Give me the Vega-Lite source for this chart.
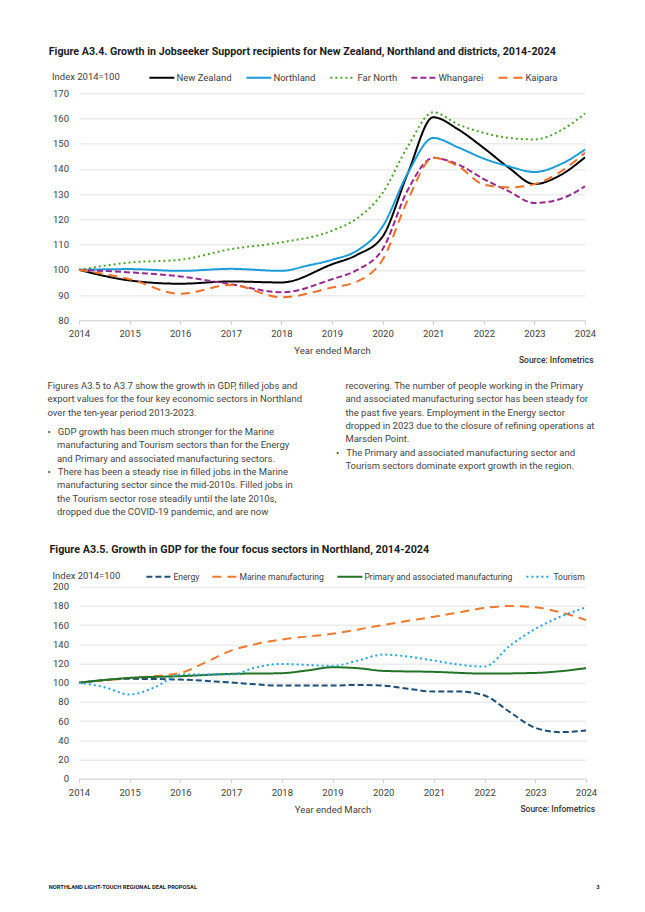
{
  "$schema": "https://vega.github.io/schema/vega-lite/v6.json",
  "background": "white",
  "padding": {"left": 47, "top": 45.3, "right": 0, "bottom": 0},
  "columns": 1,
  "align": "none",
  "spacing": 5.7,
  "resolve": {"scale": {"color": "independent", "strokeDash": "independent"}},
  "config": {
    "font": "Roboto",
    "view": {"stroke": null},
    "axis": {
      "labelFont": "Roboto", "labelFontSize": 9.5, "labelColor": "#404040",
      "titleFont": "Roboto", "titleFontSize": 9.5, "titleFontWeight": "normal", "titleColor": "#404040",
      "gridColor": "#e3e3e3", "domainColor": "#d6d6d6", "tickColor": "#cfcfcf"
    }
  },
  "datasets": {
    "jobseeker": [
      {"year": 2014, "series": "New Zealand", "value": 100},
      {"year": 2015, "series": "New Zealand", "value": 95.8},
      {"year": 2016, "series": "New Zealand", "value": 94.5},
      {"year": 2017, "series": "New Zealand", "value": 95.4},
      {"year": 2018, "series": "New Zealand", "value": 95.0},
      {"year": 2019, "series": "New Zealand", "value": 102.2},
      {"year": 2019.5, "series": "New Zealand", "value": 106},
      {"year": 2020, "series": "New Zealand", "value": 113.2},
      {"year": 2020.5, "series": "New Zealand", "value": 138.4},
      {"year": 2021, "series": "New Zealand", "value": 160.5},
      {"year": 2021.5, "series": "New Zealand", "value": 155.6},
      {"year": 2022, "series": "New Zealand", "value": 148.3},
      {"year": 2022.5, "series": "New Zealand", "value": 140.4},
      {"year": 2023, "series": "New Zealand", "value": 134},
      {"year": 2023.5, "series": "New Zealand", "value": 137.4},
      {"year": 2024, "series": "New Zealand", "value": 144.6},
      {"year": 2014, "series": "Northland", "value": 100},
      {"year": 2015, "series": "Northland", "value": 100.3},
      {"year": 2016, "series": "Northland", "value": 99.6},
      {"year": 2017, "series": "Northland", "value": 100.4},
      {"year": 2018, "series": "Northland", "value": 99.6},
      {"year": 2018.5, "series": "Northland", "value": 101.6},
      {"year": 2019, "series": "Northland", "value": 104},
      {"year": 2019.5, "series": "Northland", "value": 107.7},
      {"year": 2020, "series": "Northland", "value": 117.2},
      {"year": 2020.5, "series": "Northland", "value": 138.4},
      {"year": 2021, "series": "Northland", "value": 152.3},
      {"year": 2021.5, "series": "Northland", "value": 148.5},
      {"year": 2022, "series": "Northland", "value": 144.1},
      {"year": 2022.5, "series": "Northland", "value": 141},
      {"year": 2023, "series": "Northland", "value": 138.8},
      {"year": 2023.5, "series": "Northland", "value": 141.7},
      {"year": 2024, "series": "Northland", "value": 147.7},
      {"year": 2014, "series": "Far North", "value": 100},
      {"year": 2015, "series": "Far North", "value": 102.9},
      {"year": 2016, "series": "Far North", "value": 104},
      {"year": 2017, "series": "Far North", "value": 108.2},
      {"year": 2018, "series": "Far North", "value": 110.9},
      {"year": 2019, "series": "Far North", "value": 115.5},
      {"year": 2019.5, "series": "Far North", "value": 120.5},
      {"year": 2020, "series": "Far North", "value": 130.5},
      {"year": 2020.5, "series": "Far North", "value": 149},
      {"year": 2021, "series": "Far North", "value": 162.5},
      {"year": 2021.5, "series": "Far North", "value": 157.6},
      {"year": 2022, "series": "Far North", "value": 154.3},
      {"year": 2022.5, "series": "Far North", "value": 152.3},
      {"year": 2023, "series": "Far North", "value": 151.7},
      {"year": 2023.5, "series": "Far North", "value": 155},
      {"year": 2024, "series": "Far North", "value": 162},
      {"year": 2014, "series": "Whangarei", "value": 100},
      {"year": 2015, "series": "Whangarei", "value": 99},
      {"year": 2016, "series": "Whangarei", "value": 97.4},
      {"year": 2017, "series": "Whangarei", "value": 94.3},
      {"year": 2018, "series": "Whangarei", "value": 91.1},
      {"year": 2019, "series": "Whangarei", "value": 96.3},
      {"year": 2019.5, "series": "Whangarei", "value": 100},
      {"year": 2020, "series": "Whangarei", "value": 108.2},
      {"year": 2020.5, "series": "Whangarei", "value": 131.8},
      {"year": 2021, "series": "Whangarei", "value": 144.4},
      {"year": 2021.5, "series": "Whangarei", "value": 141.7},
      {"year": 2022, "series": "Whangarei", "value": 136},
      {"year": 2022.5, "series": "Whangarei", "value": 131.1},
      {"year": 2023, "series": "Whangarei", "value": 126.5},
      {"year": 2023.5, "series": "Whangarei", "value": 128},
      {"year": 2024, "series": "Whangarei", "value": 133.1},
      {"year": 2014, "series": "Kaipara", "value": 100},
      {"year": 2015, "series": "Kaipara", "value": 96.3},
      {"year": 2016, "series": "Kaipara", "value": 90.5},
      {"year": 2017, "series": "Kaipara", "value": 94},
      {"year": 2018, "series": "Kaipara", "value": 89.1},
      {"year": 2019, "series": "Kaipara", "value": 93},
      {"year": 2019.5, "series": "Kaipara", "value": 95.4},
      {"year": 2020, "series": "Kaipara", "value": 104},
      {"year": 2020.5, "series": "Kaipara", "value": 127.8},
      {"year": 2021, "series": "Kaipara", "value": 144.4},
      {"year": 2021.5, "series": "Kaipara", "value": 141},
      {"year": 2022, "series": "Kaipara", "value": 133.8},
      {"year": 2022.5, "series": "Kaipara", "value": 132.7},
      {"year": 2023, "series": "Kaipara", "value": 134},
      {"year": 2023.5, "series": "Kaipara", "value": 138.7},
      {"year": 2024, "series": "Kaipara", "value": 146.4}
    ],
    "gdp": [
      {"year": 2014, "series": "Energy", "value": 100},
      {"year": 2015, "series": "Energy", "value": 104},
      {"year": 2016, "series": "Energy", "value": 103.3},
      {"year": 2017, "series": "Energy", "value": 100.2},
      {"year": 2018, "series": "Energy", "value": 97},
      {"year": 2019, "series": "Energy", "value": 97},
      {"year": 2019.5, "series": "Energy", "value": 97.7},
      {"year": 2020, "series": "Energy", "value": 97},
      {"year": 2020.5, "series": "Energy", "value": 93.6},
      {"year": 2021, "series": "Energy", "value": 90.8},
      {"year": 2021.5, "series": "Energy", "value": 90.8},
      {"year": 2022, "series": "Energy", "value": 86.7},
      {"year": 2022.5, "series": "Energy", "value": 69.3},
      {"year": 2023, "series": "Energy", "value": 53},
      {"year": 2023.5, "series": "Energy", "value": 48.5},
      {"year": 2024, "series": "Energy", "value": 50.3},
      {"year": 2014, "series": "Marine manufacturing", "value": 100},
      {"year": 2015, "series": "Marine manufacturing", "value": 105},
      {"year": 2016, "series": "Marine manufacturing", "value": 110.2},
      {"year": 2016.5, "series": "Marine manufacturing", "value": 121.3},
      {"year": 2017, "series": "Marine manufacturing", "value": 133.4},
      {"year": 2017.5, "series": "Marine manufacturing", "value": 140.4},
      {"year": 2018, "series": "Marine manufacturing", "value": 145},
      {"year": 2019, "series": "Marine manufacturing", "value": 151},
      {"year": 2020, "series": "Marine manufacturing", "value": 160.1},
      {"year": 2021, "series": "Marine manufacturing", "value": 168.8},
      {"year": 2021.5, "series": "Marine manufacturing", "value": 173.3},
      {"year": 2022, "series": "Marine manufacturing", "value": 177.8},
      {"year": 2022.5, "series": "Marine manufacturing", "value": 179.9},
      {"year": 2023, "series": "Marine manufacturing", "value": 178.5},
      {"year": 2023.5, "series": "Marine manufacturing", "value": 173.3},
      {"year": 2024, "series": "Marine manufacturing", "value": 165.3},
      {"year": 2014, "series": "Primary and associated manufacturing", "value": 100},
      {"year": 2015, "series": "Primary and associated manufacturing", "value": 105},
      {"year": 2016, "series": "Primary and associated manufacturing", "value": 106.8},
      {"year": 2017, "series": "Primary and associated manufacturing", "value": 109.2},
      {"year": 2018, "series": "Primary and associated manufacturing", "value": 109.9},
      {"year": 2018.5, "series": "Primary and associated manufacturing", "value": 112.7},
      {"year": 2019, "series": "Primary and associated manufacturing", "value": 116.1},
      {"year": 2019.5, "series": "Primary and associated manufacturing", "value": 115.1},
      {"year": 2020, "series": "Primary and associated manufacturing", "value": 112.3},
      {"year": 2021, "series": "Primary and associated manufacturing", "value": 111.3},
      {"year": 2022, "series": "Primary and associated manufacturing", "value": 109.5},
      {"year": 2023, "series": "Primary and associated manufacturing", "value": 110.2},
      {"year": 2023.5, "series": "Primary and associated manufacturing", "value": 112},
      {"year": 2024, "series": "Primary and associated manufacturing", "value": 115.1},
      {"year": 2014, "series": "Tourism", "value": 100},
      {"year": 2014.5, "series": "Tourism", "value": 95.3},
      {"year": 2015, "series": "Tourism", "value": 87.7},
      {"year": 2015.5, "series": "Tourism", "value": 95.3},
      {"year": 2016, "series": "Tourism", "value": 108.5},
      {"year": 2017, "series": "Tourism", "value": 108.5},
      {"year": 2017.5, "series": "Tourism", "value": 116.1},
      {"year": 2018, "series": "Tourism", "value": 119.6},
      {"year": 2018.5, "series": "Tourism", "value": 118.5},
      {"year": 2019, "series": "Tourism", "value": 117.5},
      {"year": 2019.5, "series": "Tourism", "value": 123},
      {"year": 2020, "series": "Tourism", "value": 129.3},
      {"year": 2020.5, "series": "Tourism", "value": 127.2},
      {"year": 2021, "series": "Tourism", "value": 123},
      {"year": 2021.5, "series": "Tourism", "value": 118.9},
      {"year": 2022, "series": "Tourism", "value": 116.8},
      {"year": 2022.5, "series": "Tourism", "value": 138.6},
      {"year": 2023, "series": "Tourism", "value": 156},
      {"year": 2023.5, "series": "Tourism", "value": 168.8},
      {"year": 2024, "series": "Tourism", "value": 178.5}
    ]
  },
  "concat": [
    {
      "width": 506,
      "height": 227,
      "title": {
        "text": "Figure A3.4. Growth in Jobseeker Support recipients for New Zealand, Northland and districts, 2014-2024",
        "anchor": "start", "frame": "group", "dx": -30.3, "offset": 6.8,
        "font": "Roboto", "fontSize": 10.7, "fontWeight": "bold", "color": "#1d1d1d"
      },
      "layer": [
        {
          "data": {"name": "jobseeker"},
          "mark": {"type": "line", "interpolate": "monotone", "strokeWidth": 2},
          "encoding": {
            "x": {
              "field": "year", "type": "quantitative",
              "scale": {"domain": [2014, 2024], "nice": false},
              "axis": {
                "values": [2014, 2015, 2016, 2017, 2018, 2019, 2020, 2021, 2022, 2023, 2024],
                "format": "d", "grid": false, "labelFlush": false, "tickSize": 4,
                "labelPadding": 4.5, "title": "Year ended March", "titlePadding": 7.5
              }
            },
            "y": {
              "field": "value", "type": "quantitative",
              "scale": {"domain": [80, 170], "nice": false, "zero": false},
              "axis": {
                "values": [80, 90, 100, 110, 120, 130, 140, 150, 160, 170],
                "grid": true, "domain": false, "ticks": false, "labelPadding": 10.5,
                "title": "Index 2014=100", "titleAngle": 0, "titleAlign": "left",
                "titleBaseline": "middle", "titleX": -27.5, "titleY": -16.6
              }
            },
            "color": {
              "field": "series", "type": "nominal",
              "scale": {
                "domain": ["New Zealand", "Northland", "Far North", "Whangarei", "Kaipara"],
                "range": ["#000000", "#199cd8", "#4fa32f", "#962a8e", "#f0702a"]
              },
              "legend": {
                "orient": "none", "legendX": 69.4, "legendY": -29.1, "direction": "horizontal",
                "columns": 5, "title": null, "symbolType": "stroke", "symbolSize": 625,
                "symbolStrokeWidth": 2, "labelFont": "Roboto", "labelFontSize": 9.5, "labelLimit": 300,
                "labelColor": "#404040", "columnPadding": 10, "labelOffset": 1, "padding": 0
              }
            },
            "strokeDash": {
              "field": "series", "type": "nominal",
              "scale": {
                "domain": ["New Zealand", "Northland", "Far North", "Whangarei", "Kaipara"],
                "range": [[1, 0], [1, 0], [2, 3], [6, 3], [9, 6]]
              },
              "legend": {
                "orient": "none", "legendX": 69.4, "legendY": -29.1, "direction": "horizontal",
                "columns": 5, "title": null, "symbolType": "stroke", "symbolSize": 625,
                "symbolStrokeWidth": 2, "labelFont": "Roboto", "labelFontSize": 9.5, "labelLimit": 300,
                "labelColor": "#404040", "columnPadding": 10, "labelOffset": 1, "padding": 0
              }
            }
          }
        },
        {
          "data": {"values": [{}]},
          "mark": {"type": "text", "align": "right", "baseline": "middle", "dx": 8.5, "dy": 39.4,
                   "font": "Roboto", "fontSize": 8.5, "fontWeight": 500, "color": "#333333"},
          "encoding": {
            "x": {
              "datum": 2024, "type": "quantitative",
              "scale": {"domain": [2014, 2024], "nice": false},
              "axis": {
                "values": [2014, 2015, 2016, 2017, 2018, 2019, 2020, 2021, 2022, 2023, 2024],
                "format": "d", "grid": false, "labelFlush": false, "tickSize": 4,
                "labelPadding": 4.5, "title": "Year ended March", "titlePadding": 7.5
              }
            },
            "y": {
              "datum": 80, "type": "quantitative",
              "scale": {"domain": [80, 170], "nice": false, "zero": false},
              "axis": {
                "values": [80, 90, 100, 110, 120, 130, 140, 150, 160, 170],
                "grid": true, "domain": false, "ticks": false, "labelPadding": 10.5,
                "title": "Index 2014=100", "titleAngle": 0, "titleAlign": "left",
                "titleBaseline": "middle", "titleX": -27.5, "titleY": -16.6
              }
            },
            "text": {"value": "Source: Infometrics"}
          }
        }
      ]
    },
    {
      "spacing": 18,
      "bounds": "flush",
      "hconcat": [
        {
          "width": 239.4,
          "height": 6,
          "data": {"values": [{}]},
          "mark": {"type": "text"},
          "encoding": {"text": {"value": ""}},
          "title": {
            "text": [
              "Figures A3.5 to A3.7 show the growth in GDP, filled jobs and",
              "export values for the four key economic sectors in Northland",
              "over the ten-year period 2013-2023."
            ],
            "subtitle": [
              "•\u00a0\u00a0\u00a0GDP growth has been much stronger for the Marine",
              "\u200b\u00a0\u00a0\u00a0\u00a0manufacturing and Tourism sectors than for the Energy",
              "\u200b\u00a0\u00a0\u00a0\u00a0and Primary and associated manufacturing sectors.",
              "•\u00a0\u00a0\u00a0There has been a steady rise in filled jobs in the Marine",
              "\u200b\u00a0\u00a0\u00a0\u00a0manufacturing sector since the mid-2010s. Filled jobs in",
              "\u200b\u00a0\u00a0\u00a0\u00a0the Tourism sector rose steadily until the late 2010s,",
              "\u200b\u00a0\u00a0\u00a0\u00a0dropped due the COVID-19 pandemic, and are now"
            ],
            "orient": "bottom", "anchor": "start", "frame": "group", "offset": 0, "dx": -31.5,
            "font": "Roboto", "fontSize": 9.5, "fontWeight": "normal", "color": "#454545",
            "lineHeight": 13.3,
            "subtitleFont": "Roboto", "subtitleFontSize": 9.5, "subtitleColor": "#454545",
            "subtitleLineHeight": 13.3, "subtitlePadding": 10
          }
        },
        {
          "width": 262,
          "height": 6,
          "data": {"values": [{}]},
          "mark": {"type": "text"},
          "encoding": {"text": {"value": ""}},
          "title": {
            "text": [
              "\u200b\u00a0\u00a0\u00a0\u00a0recovering. The number of people working in the Primary",
              "\u200b\u00a0\u00a0\u00a0\u00a0and associated manufacturing sector has been steady for",
              "\u200b\u00a0\u00a0\u00a0\u00a0the past five years. Employment in the Energy sector",
              "\u200b\u00a0\u00a0\u00a0\u00a0dropped in 2023 due to the closure of refining operations at",
              "\u200b\u00a0\u00a0\u00a0\u00a0Marsden Point."
            ],
            "subtitle": [
              "•\u00a0\u00a0\u00a0The Primary and associated manufacturing sector and",
              "\u200b\u00a0\u00a0\u00a0\u00a0Tourism sectors dominate export growth in the region.",
              "\u00a0",
              "\u00a0",
              "\u00a0",
              "\u00a0",
              "\u00a0"
            ],
            "orient": "bottom", "anchor": "start", "frame": "group", "offset": 0, "dx": -1,
            "font": "Roboto", "fontSize": 9.5, "fontWeight": "normal", "color": "#454545",
            "lineHeight": 13.3,
            "subtitleFont": "Roboto", "subtitleFontSize": 9.5, "subtitleColor": "#454545",
            "subtitleLineHeight": 13.3, "subtitlePadding": 4.5
          }
        }
      ]
    },
    {
      "width": 507,
      "height": 192,
      "title": {
        "text": "Figure A3.5. Growth in GDP for the four focus sectors in Northland, 2014-2024",
        "anchor": "start", "frame": "group", "dx": -29.6, "offset": 8.4,
        "font": "Roboto", "fontSize": 10.8, "fontWeight": "bold", "color": "#1d1d1d"
      },
      "layer": [
        {
          "data": {"name": "gdp"},
          "mark": {"type": "line", "interpolate": "monotone", "strokeWidth": 2},
          "encoding": {
            "x": {
              "field": "year", "type": "quantitative",
              "scale": {"domain": [2014, 2024], "nice": false},
              "axis": {
                "values": [2014, 2015, 2016, 2017, 2018, 2019, 2020, 2021, 2022, 2023, 2024],
                "format": "d", "grid": false, "labelFlush": false, "tickSize": 4,
                "labelPadding": 4.5, "title": "Year ended March", "titlePadding": 7.5
              }
            },
            "y": {
              "field": "value", "type": "quantitative",
              "scale": {"domain": [0, 200], "nice": false},
              "axis": {
                "values": [0, 20, 40, 60, 80, 100, 120, 140, 160, 180, 200],
                "grid": true, "domain": false, "ticks": false, "labelPadding": 10.5,
                "title": "Index 2014=100", "titleAngle": 0, "titleAlign": "left",
                "titleBaseline": "middle", "titleX": -27, "titleY": -11.3
              }
            },
            "color": {
              "field": "series", "type": "nominal",
              "scale": {
                "domain": ["Energy", "Marine manufacturing", "Primary and associated manufacturing", "Tourism"],
                "range": ["#1d4f76", "#ee7a2f", "#227326", "#22a5e0"]
              },
              "legend": {
                "orient": "none", "legendX": 66.4, "legendY": -23.8, "direction": "horizontal",
                "columns": 4, "title": null, "symbolType": "stroke", "symbolSize": 625,
                "symbolStrokeWidth": 2, "labelFont": "Roboto", "labelFontSize": 8.6, "labelLimit": 300,
                "labelColor": "#404040", "columnPadding": 9, "labelOffset": 1, "padding": 0
              }
            },
            "strokeDash": {
              "field": "series", "type": "nominal",
              "scale": {
                "domain": ["Energy", "Marine manufacturing", "Primary and associated manufacturing", "Tourism"],
                "range": [[6, 3], [9, 6], [1, 0], [2, 3]]
              },
              "legend": {
                "orient": "none", "legendX": 66.4, "legendY": -23.8, "direction": "horizontal",
                "columns": 4, "title": null, "symbolType": "stroke", "symbolSize": 625,
                "symbolStrokeWidth": 2, "labelFont": "Roboto", "labelFontSize": 8.6, "labelLimit": 300,
                "labelColor": "#404040", "columnPadding": 9, "labelOffset": 1, "padding": 0
              }
            }
          }
        },
        {
          "data": {"values": [{}]},
          "mark": {"type": "text", "align": "right", "baseline": "middle", "dx": 9, "dy": 30,
                   "font": "Roboto", "fontSize": 8.5, "fontWeight": 500, "color": "#333333"},
          "encoding": {
            "x": {
              "datum": 2024, "type": "quantitative",
              "scale": {"domain": [2014, 2024], "nice": false},
              "axis": {
                "values": [2014, 2015, 2016, 2017, 2018, 2019, 2020, 2021, 2022, 2023, 2024],
                "format": "d", "grid": false, "labelFlush": false, "tickSize": 4,
                "labelPadding": 4.5, "title": "Year ended March", "titlePadding": 7.5
              }
            },
            "y": {
              "datum": 0, "type": "quantitative",
              "scale": {"domain": [0, 200], "nice": false},
              "axis": {
                "values": [0, 20, 40, 60, 80, 100, 120, 140, 160, 180, 200],
                "grid": true, "domain": false, "ticks": false, "labelPadding": 10.5,
                "title": "Index 2014=100", "titleAngle": 0, "titleAlign": "left",
                "titleBaseline": "middle", "titleX": -27, "titleY": -11.3
              }
            },
            "text": {"value": "Source: Infometrics"}
          }
        }
      ]
    },
    {
      "spacing": 0,
      "bounds": "flush",
      "hconcat": [
        {
          "width": 470,
          "height": 65,
          "data": {"values": [{}]},
          "mark": {"type": "text"},
          "encoding": {"text": {"value": ""}},
          "title": {
            "text": "NORTHLAND LIGHT-TOUCH REGIONAL DEAL PROPOSAL",
            "orient": "bottom", "anchor": "start", "frame": "group", "offset": 0, "dx": -30.3,
            "font": "Roboto", "fontSize": 5.8, "fontWeight": "bold", "color": "#222222"
          }
        },
        {
          "width": 50.7,
          "height": 65,
          "data": {"values": [{}]},
          "mark": {"type": "text"},
          "encoding": {"text": {"value": ""}},
          "title": {
            "text": "3",
            "orient": "bottom", "anchor": "end", "frame": "group", "offset": 0,
            "font": "Roboto", "fontSize": 5.8, "fontWeight": "bold", "color": "#222222"
          }
        }
      ]
    }
  ]
}
